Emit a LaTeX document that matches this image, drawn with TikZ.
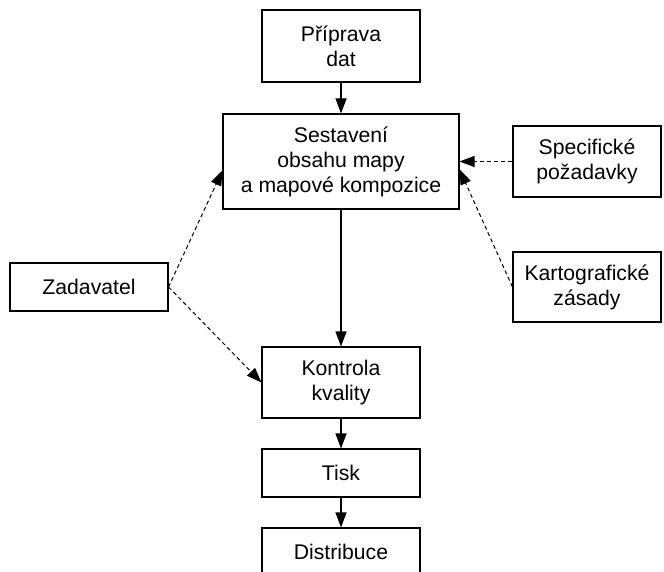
\documentclass[tikz,border=0pt]{standalone}
\usepackage{fontspec}
\setmainfont{Liberation Sans}
\usetikzlibrary{arrows.meta}

\tikzset{
	blok/.style={draw, line width=1.1pt, align=center, inner sep=0pt, minimum width=158pt, font=\fontsize{21.2}{25}\selectfont},
	sipka/.style={-{Triangle[length=15pt,width=11pt]}, line width=1.1pt},
	carka/.style={-{Triangle[length=15pt,width=11pt]}, line width=1pt, dash pattern=on 4pt off 3pt}
}

\begin{document}
\begin{tikzpicture}[x=1pt,y=-1pt]
		\clip (0,0) rectangle (664,572);
		\node[blok, minimum height=72pt] (priprava) at (341,46) {Příprava\\dat};
		\node[blok, minimum width=236pt, minimum height=95pt] (sestaveni) at (341,161.5) {Sestavení\\obsahu mapy\\a mapové kompozice};
		\node[blok, minimum width=148pt, minimum height=71pt] (pozadavky) at (587,161.5) {Specifické\\požadavky};
		\node[blok, minimum width=148pt, minimum height=70pt] (zasady) at (587,287) {Kartografické\\zásady};
		\node[blok, minimum height=48pt] (zadavatel) at (89,287) {Zadavatel};
		\node[blok, minimum height=71pt] (kontrola) at (341,382.5) {Kontrola\\kvality};
		\node[blok, minimum height=48pt] (tisk) at (341,473) {Tisk};
		\node[blok, minimum height=48pt] (distribuce) at (341,552) {Distribuce};
		% hlavni tok
		\draw[sipka] (priprava) -- (sestaveni);
		\draw[sipka] (sestaveni) -- (kontrola);
		\draw[sipka] (kontrola) -- (tisk);
		\draw[sipka] (tisk) -- (distribuce);
		% vstupy
		\draw[carka] (zadavatel.east) -- ([yshift=-9pt]sestaveni.west);
		\draw[carka] (zadavatel.east) -- (kontrola.west);
		\draw[carka] (pozadavky.west) -- (sestaveni.east);
		\draw[carka] (zasady.west) -- ([yshift=-8pt]sestaveni.east);
	\end{tikzpicture}
\end{document}
